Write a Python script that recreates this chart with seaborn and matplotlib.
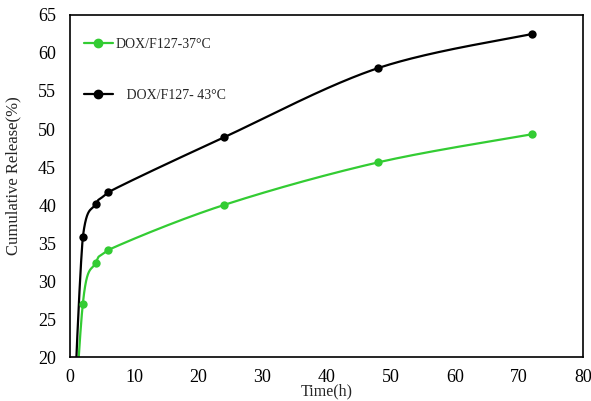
import numpy as np
import pandas as pd
import matplotlib
matplotlib.use("Agg")
import matplotlib.pyplot as plt
import seaborn as sns
from matplotlib.lines import Line2D

time_h = [0, 2, 4, 6, 24, 48, 72]
release_37 = [0, 27.0, 32.4, 34.1, 40.0, 45.6, 49.3]
release_43 = [0, 35.8, 40.1, 41.7, 48.9, 58.0, 62.5]
labels = ["DOX/F127-37\u00b0C", "   DOX/F127- 43\u00b0C"]
colors = ["#33cc33", "#000000"]


def smooth(x, y, n=80):
    # Excel-like smoothed line: Catmull-Rom Bezier (tension 1/6),
    # control points clamped to each segment's range to avoid overshoot
    P = np.column_stack([np.asarray(x, float), np.asarray(y, float)])
    out = []
    for i in range(len(P) - 1):
        p0 = P[i]
        p3 = P[i + 1]
        pm = P[i - 1] if i > 0 else P[i]
        pp = P[i + 2] if i + 2 < len(P) else P[i + 1]
        p1 = p0 + (p3 - pm) / 6
        p2 = p3 - (pp - p0) / 6
        lo = np.minimum(p0, p3)
        hi = np.maximum(p0, p3)
        p1 = np.clip(p1, lo, hi)
        p2 = np.clip(p2, lo, hi)
        t = np.linspace(0, 1, n)[:, None]
        seg = ((1 - t) ** 3) * p0 + 3 * ((1 - t) ** 2) * t * p1 + 3 * (1 - t) * t ** 2 * p2 + t ** 3 * p3
        out.append(seg if i == 0 else seg[1:])
    s = np.vstack(out)
    return s[:, 0], s[:, 1]


sns.set_style("white")
plt.rcParams["font.family"] = ["Liberation Serif", "DejaVu Serif"]

fig = plt.figure(figsize=(5.91, 4.01), dpi=100)
ax = fig.add_axes([70 / 591, (401 - 357) / 401, (583 - 70) / 591, (357 - 15) / 401])

handles = []
for yv, c in [(release_37, colors[0]), (release_43, colors[1])]:
    sx, sy = smooth(time_h, yv)
    df = pd.DataFrame({"x": sx, "y": sy})
    sns.lineplot(data=df, x="x", y="y", sort=False, estimator=None, color=c, lw=1.6, ax=ax)
    pts = pd.DataFrame({"x": time_h[1:], "y": yv[1:]})
    sns.scatterplot(data=pts, x="x", y="y", color=c, s=36, edgecolor=c, linewidth=0, ax=ax, zorder=3)
    handles.append(Line2D([0], [0], color=c, lw=1.6, marker="o", markersize=6))

ax.set_xlim(0, 80)
ax.set_ylim(20, 65)
ax.set_xticks(range(0, 81, 10))
ax.set_yticks(range(20, 66, 5))
ax.tick_params(direction="in", length=4, width=1, labelsize=13, colors="black")
ax.tick_params(axis="x", pad=8.5)
ax.tick_params(axis="y", pad=10)
for sp in ax.spines.values():
    sp.set_visible(True)
    sp.set_color("black")
    sp.set_linewidth(1.2)
ax.set_xlabel("Time(h)", fontsize=11.5, labelpad=-2)
ax.set_ylabel("Cumulative Release(%)", fontsize=12)
ax.yaxis.set_label_coords(-0.094, 0.53)

ax.legend(handles, labels, loc="upper left", bbox_to_anchor=(0.027, 0.933), frameon=False,
          fontsize=10, handlelength=2.1, handletextpad=0.2, labelspacing=2.72, borderpad=0,
          borderaxespad=0)

fig.savefig("out.png", dpi=100)
